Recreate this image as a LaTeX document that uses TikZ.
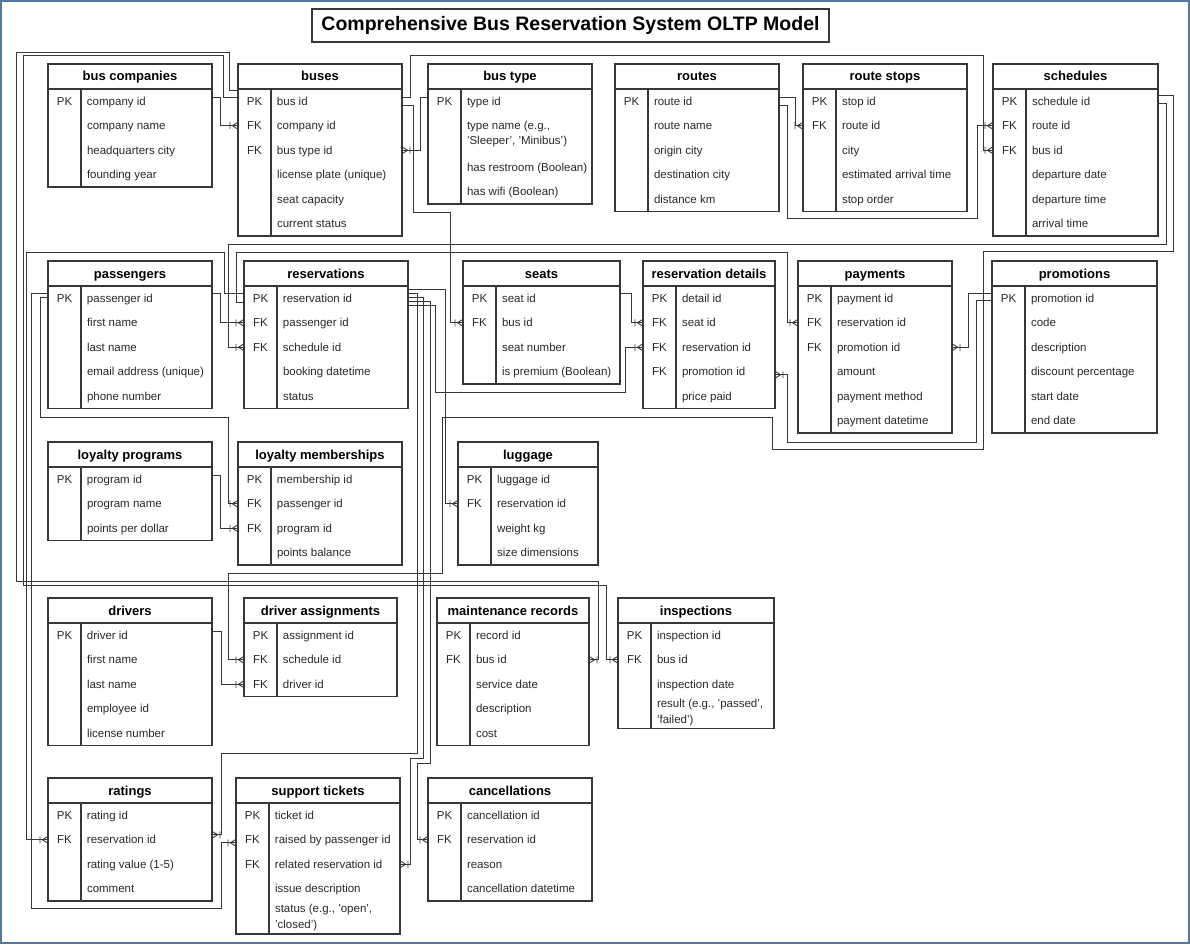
\documentclass[tikz,border=0pt]{standalone}
\usepackage{fontspec}
\setmainfont{Liberation Sans}
\usetikzlibrary{arrows.meta,positioning}
\definecolor{frameblue}{RGB}{84,120,158}
\definecolor{erdark}{RGB}{55,55,55}
\definecolor{ertext}{RGB}{40,40,40}

% crow's foot with a bar (one-to-many end)
\pgfdeclarearrow{
  name = Crow,
  parameters = {\the\pgfarrowlength,\the\pgfarrowwidth},
  setup code = {
    \pgfarrowssettipend{0pt}
    \pgfarrowssetlineend{0pt}
    \pgfarrowssetbackend{-\pgfarrowlength}
    \pgfarrowssetvisualbackend{-\pgfarrowlength}
    \pgfarrowssavethe\pgfarrowlength
    \pgfarrowssavethe\pgfarrowwidth
    \pgfarrowshullpoint{0pt}{0pt}
  },
  drawing code = {
    \pgfpathmoveto{\pgfqpoint{-0.7\pgfarrowlength}{0pt}}
    \pgfpathlineto{\pgfqpoint{0pt}{0.5\pgfarrowwidth}}
    \pgfpathmoveto{\pgfqpoint{-0.7\pgfarrowlength}{0pt}}
    \pgfpathlineto{\pgfqpoint{0pt}{-0.5\pgfarrowwidth}}
    \pgfpathmoveto{\pgfqpoint{-\pgfarrowlength}{0.5\pgfarrowwidth}}
    \pgfpathlineto{\pgfqpoint{-\pgfarrowlength}{-0.5\pgfarrowwidth}}
    \pgfusepathqstroke
  },
  defaults = {length = 8pt, width = 7pt}
}

\tikzset{
  ertitle/.style={inner sep=0pt,outer sep=0pt,minimum height=25pt,
    text height=10.5pt,text depth=1.5pt,
    font=\bfseries\fontsize{13}{15}\selectfont},
  errow/.style={inner sep=0pt,outer sep=0pt,minimum height=24.5pt,text=ertext,
    font=\fontsize{11.5}{15.5}\selectfont},
  erbox/.style={draw=erdark,line width=1.1pt},
  fk/.style={draw=erdark,line width=0.9pt,-{Crow}},
}

% two-line field of given height
\newcommand{\two}[3]{\parbox[c][#1pt][c]{120pt}{#2\\#3}}
% table: name, top-left, width, title, rows (key/field)
\newcommand{\ertable}[5]{%
  \node[ertitle,minimum width=#3pt,anchor=north west] (#1-0) at (#2) {#4};
  \foreach \erk/\erf [count=\eri] in {#5}{
    \pgfmathtruncatemacro{\erj}{\eri-1}
    \node[errow,anchor=north west] (#1-\eri) at (#1-\erj.south west)
      {\makebox[#3pt][l]{\rule[-3.6pt]{0pt}{15.5pt}\makebox[33pt]{\erk}\hspace{6pt}\erf}};
    \xdef\ernrows{\eri}
  }
  \draw[erbox] (#1-0.north west) rectangle (#1-\ernrows.south east);
  \draw[erbox] (#1-0.south west) -- (#1-0.south east);
  \draw[erbox] ([xshift=33pt]#1-0.south west) -- ([xshift=33pt]#1-\ernrows.south west);
}

\begin{document}
\begin{tikzpicture}[x=1pt,y=-1pt]
\useasboundingbox (0,0) rectangle (1190,944);
\draw[frameblue,line width=2pt] (1,1) rectangle (1189,943);

\node[draw=erdark,line width=1.1pt,minimum width=517pt,minimum height=33pt,inner sep=0pt,
  text height=14pt,text depth=4pt,
  font=\bfseries\fontsize{19.5}{22}\selectfont] (title) at (570.5,25.5)
  {Comprehensive Bus Reservation System OLTP Model};

% first row of tables
\ertable{bc}{48,64}{164}{bus companies}{PK/company id, /company name, /headquarters city, /founding year}
\ertable{bus}{238,64}{164}{buses}{PK/bus id, FK/company id, FK/bus type id, /license plate (unique), /seat capacity, /current status}
\ertable{btype}{428,64}{164}{bus type}{PK/type id, /\two{41.5}{type name (e.g.,}{'Sleeper', 'Minibus')}, /has restroom (Boolean), /has wifi (Boolean)}
\ertable{rte}{615,64}{164}{routes}{PK/route id, /route name, /origin city, /destination city, /distance km}
\ertable{rstop}{803,64}{164}{route stops}{PK/stop id, FK/route id, /city, /estimated arrival time, /stop order}
\ertable{sched}{993,64}{165}{schedules}{PK/schedule id, FK/route id, FK/bus id, /departure date, /departure time, /arrival time}

% second row
\ertable{pass}{48,261}{164}{passengers}{PK/passenger id, /first name, /last name, /email address (unique), /phone number}
\ertable{res}{244,261}{164}{reservations}{PK/reservation id, FK/passenger id, FK/schedule id, /booking datetime, /status}
\ertable{seat}{463,261}{157}{seats}{PK/seat id, FK/bus id, /seat number, /is premium (Boolean)}
\ertable{rdet}{643,261}{132}{reservation details}{PK/detail id, FK/seat id, FK/reservation id, FK/promotion id, /price paid}
\ertable{pay}{798,261}{154}{payments}{PK/payment id, FK/reservation id, FK/promotion id, /amount, /payment method, /payment datetime}
\ertable{promo}{992,261}{165}{promotions}{PK/promotion id, /code, /description, /discount percentage, /start date, /end date}

% third row
\ertable{lprog}{48,442}{164}{loyalty programs}{PK/program id, /program name, /points per dollar}
\ertable{lmem}{238,442}{164}{loyalty memberships}{PK/membership id, FK/passenger id, FK/program id, /points balance}
\ertable{lug}{458,442}{140}{luggage}{PK/luggage id, FK/reservation id, /weight kg, /size dimensions}

% fourth row
\ertable{drv}{48,598}{164}{drivers}{PK/driver id, /first name, /last name, /employee id, /license number}
\ertable{dasg}{244,598}{153}{driver assignments}{PK/assignment id, FK/schedule id, FK/driver id}
\ertable{maint}{437,598}{152}{maintenance records}{PK/record id, FK/bus id, /service date, /description, /cost}
\ertable{insp}{618,598}{156}{inspections}{PK/inspection id, FK/bus id, /inspection date, /\two{32}{result (e.g., 'passed',}{'failed')}}

% bottom row
\ertable{rat}{48,778}{164}{ratings}{PK/rating id, FK/reservation id, /rating value (1-5), /comment}
\ertable{stk}{236,778}{164}{support tickets}{PK/ticket id, FK/raised by passenger id, FK/related reservation id, /issue description, /\two{33}{status (e.g., 'open',}{'closed')}}
\ertable{canc}{428,778}{164}{cancellations}{PK/cancellation id, FK/reservation id, /reason, /cancellation datetime}

% relationships
\draw[fk] ([yshift=4pt]bc-1.east) -- ++(8,0) |- (bus-2.west);
\draw[fk] ([yshift=4pt]btype-1.west) -- ++(-8,0) |- (bus-3.east);
\draw[fk] ([yshift=-4pt]bus-1.east) -- ++(11,0) |- (450,212) |- (seat-2.west);
\draw[fk] ([yshift=4pt]bus-1.east) -- ++(8,0) |- (983,55) |- (sched-3.west);
\draw[fk] ([yshift=11pt]bus-1.west) -- ++(-9,0) |- (16,52) |- (598,581) |- (maint-2.east);
\draw[fk] ([yshift=4pt]bus-1.west) -- ++(-15,0) |- (23,55) |- (606,585) |- (insp-2.west);
\draw[fk] ([yshift=4pt]rte-1.east) -- ++(16,0) |- (rstop-2.west);
\draw[fk] ([yshift=-4pt]rte-1.east) -- ++(8,0) |- (977,218) |- (sched-2.west);
\draw[fk] ([yshift=-2pt]sched-1.east) -- ++(8,0) |- (228,244) |- (res-3.west);
\draw[fk] ([yshift=6pt]sched-1.east) -- ++(15,0) |- (983,251) |- (772,449) |- (442,417) |- (228,573) |- (dasg-2.west);
\draw[fk] ([yshift=5pt]pass-1.east) -- ++(8,0) |- (res-2.west);
\draw[fk] ([yshift=-4pt]res-1.west) -- ++(-7.5,0) |- (787,252) |- (pay-2.west);
\draw[fk] ([yshift=5pt]res-1.west) -- ++(-20,0) |- (26,252.5) |- (rat-2.west);
\draw[fk] ([yshift=5pt]pass-1.west) -- ++(-16.5,0) |- (221,908) |- ([yshift=-3pt]stk-2.west);
\draw[fk] ([yshift=1pt]pass-1.west) -- ++(-8,0) |- (228,417) |- (lmem-2.west);
\draw[fk] ([yshift=4pt]lprog-1.east) -- ++(8,0) |- (lmem-3.west);
\draw[fk] ([yshift=4pt]drv-1.east) -- ++(9,0) |- (dasg-3.west);
\draw[fk] ([yshift=5pt]seat-1.east) -- ++(11,0) |- (rdet-2.west);
\draw[fk] ([yshift=-7pt]res-1.east) -- ++(27,0) |- (625,392) |- (rdet-3.west);
\draw[fk] ([yshift=5pt]promo-1.west) -- ++(-24,0) |- (pay-3.east);
\draw[fk] ([yshift=-2pt]promo-1.west) -- ++(-16,0) |- (787,442) |- ([yshift=-3pt]rdet-4.east);
\draw[fk] ([yshift=9pt]res-1.east) -- ++(37,0) |- (lug-2.west);
\draw[fk] ([yshift=5pt]res-1.east) -- ++(9,0) |- (221,753) |- ([yshift=5pt]rat-2.east);
\draw[fk] ([yshift=1pt]res-1.east) -- ++(15,0) |- (410,758) |- (stk-3.east);
\draw[fk] ([yshift=-3pt]res-1.east) -- ++(22,0) |- (417,763) |- (canc-2.west);
\end{tikzpicture}
\end{document}
